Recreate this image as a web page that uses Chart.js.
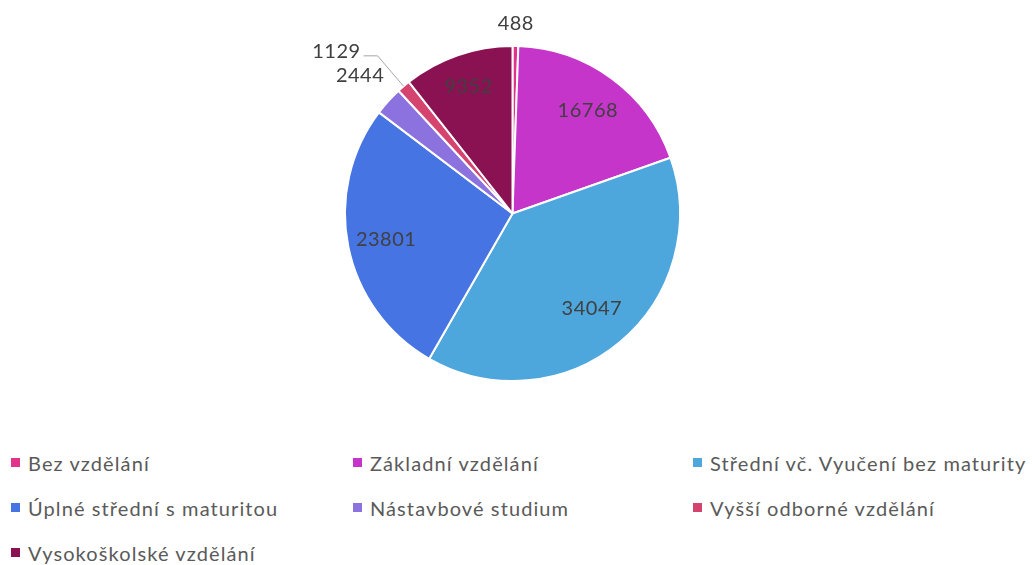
<!DOCTYPE html>
<html>
<head>
<meta charset="utf-8">
<script src="https://cdn.jsdelivr.net/npm/chart.js@4"></script>
<style>
  body { margin: 0; background: #fff; }
  #wrap { position: relative; width: 1032px; height: 565px; }
  #chartBox { position: absolute; left: 0; top: 0; width: 1032px; height: 400px; }
  .leg { position: absolute; font-family: Lato, sans-serif; font-size: 20px; letter-spacing: 1.1px; color: #5a5a5a; white-space: nowrap; line-height: 24px; }
  .leg i { position: absolute; width: 9px; height: 9px; left: -17px; top: 7px; }
</style>
</head>
<body>
<div id="wrap">
  <div id="chartBox"><canvas id="pie"></canvas></div>
  <div id="legend"></div>
</div>
<script>
const labels = ['Bez vzdělání', 'Základní vzdělání', 'Střední vč. Vyučení bez maturity',
  'Úplné střední s maturitou', 'Nástavbové studium', 'Vyšší odborné vzdělání', 'Vysokoškolské vzdělání'];
const counts = [488, 16768, 34047, 23801, 2444, 1129, 9352];
const colors = ['#E2338A', '#C535C9', '#4DA6DC', '#4674E3', '#8B72DE', '#D5446F', '#8A1253'];

// label placement: inside at fraction of radius, or outside with extra distance
const labelPos = [
  { out: 22 }, { r: 0.76 }, { r: 0.74 }, { r: 0.77 }, { out: 38 }, { out: 40, leader: true }, { r: 0.8 }
];

const valueLabels = {
  id: 'valueLabels',
  afterDatasetsDraw(chart) {
    const ctx = chart.ctx;
    const meta = chart.getDatasetMeta(0);
    ctx.save();
    ctx.font = '20px Lato, sans-serif';
    ctx.letterSpacing = '0.5px';
    ctx.fillStyle = '#404040';
    ctx.textBaseline = 'middle';
    meta.data.forEach((arc, i) => {
      const p = labelPos[i];
      const mid = (arc.startAngle + arc.endAngle) / 2;
      const cx = arc.x, cy = arc.y, R = arc.outerRadius;
      const dx = Math.cos(mid), dy = Math.sin(mid);
      const txt = String(counts[i]);
      if (p.r) {
        ctx.textAlign = 'center';
        ctx.fillText(txt, cx + dx * R * p.r, cy + dy * R * p.r);
      } else if (p.leader) {
        const ex = cx + dx * R, ey = cy + dy * R;
        const bx = cx + dx * (R + p.out), by = cy + dy * (R + p.out);
        ctx.strokeStyle = '#a6a6a6';
        ctx.lineWidth = 1;
        ctx.beginPath();
        ctx.moveTo(ex, ey);
        ctx.lineTo(bx, by);
        ctx.lineTo(bx - 14, by);
        ctx.stroke();
        ctx.textAlign = 'right';
        ctx.fillText(txt, bx - 17, by - 4);
      } else {
        ctx.textAlign = 'center';
        ctx.fillText(txt, cx + dx * (R + p.out), cy + dy * (R + p.out));
      }
    });
    ctx.restore();
  }
};

new Chart(document.getElementById('pie'), {
  type: 'pie',
  data: {
    labels: labels,
    datasets: [{
      data: counts,
      backgroundColor: colors,
      borderColor: '#ffffff',
      borderWidth: 2
    }]
  },
  options: {
    responsive: true,
    maintainAspectRatio: false,
    animation: false,
    layout: { padding: { top: 45, bottom: 18, right: 7 } },
    plugins: {
      legend: { display: false },
      tooltip: { enabled: false }
    }
  },
  plugins: [valueLabels]
});

// legend in three fixed columns
const colX = [28, 370, 710];
const rowY = [451, 496, 541];
const legend = document.getElementById('legend');
labels.forEach((name, i) => {
  const d = document.createElement('div');
  d.className = 'leg';
  d.style.left = colX[i % 3] + 'px';
  d.style.top = rowY[Math.floor(i / 3)] + 'px';
  d.innerHTML = '<i style="background:' + colors[i] + '"></i>' + name;
  legend.appendChild(d);
});
</script>
</body>
</html>
